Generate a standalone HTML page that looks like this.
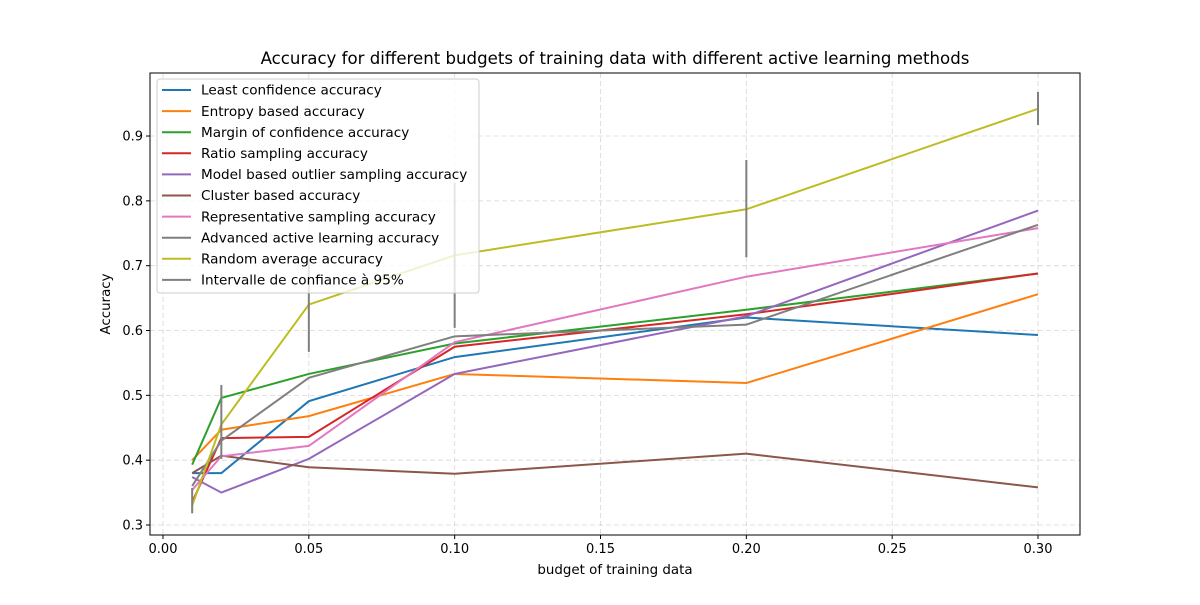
<!DOCTYPE html>
<html><head><meta charset="utf-8"><style>
body{margin:0;background:#fff;}
svg text{font-family:"DejaVu Sans","Liberation Sans",sans-serif;fill:#000;}
</style></head><body>
<svg id="c" width="1200" height="600"></svg>
<script>
const xVals=[0.01,0.02,0.05,0.1,0.2,0.3];
const seriesNames=["Least confidence accuracy","Entropy based accuracy","Margin of confidence accuracy","Ratio sampling accuracy","Model based outlier sampling accuracy","Cluster based accuracy","Representative sampling accuracy","Advanced active learning accuracy","Random average accuracy"];
const leastConf=[0.38,0.38,0.491,0.559,0.62,0.593];
const entropy=[0.40,0.447,0.468,0.533,0.519,0.656];
const margin=[0.393,0.496,0.533,0.58,0.632,0.688];
const ratio=[0.335,0.434,0.436,0.575,0.625,0.688];
const outlier=[0.374,0.35,0.402,0.533,0.622,0.785];
const cluster=[0.38,0.407,0.389,0.379,0.41,0.358];
const representative=[0.354,0.406,0.422,0.582,0.683,0.758];
const advanced=[0.36,0.43,0.527,0.591,0.609,0.763];
const randomAvg=[0.33,0.455,0.64,0.716,0.787,0.942];
const ciLow=[0.318,0.402,0.567,0.604,0.713,0.917];
const ciHigh=[0.357,0.516,0.71,0.828,0.863,0.968];
const xTicks=[0,0.05,0.1,0.15,0.2,0.25,0.3];
const xTickLabels=["0.00","0.05","0.10","0.15","0.20","0.25","0.30"];
const yTicks=[0.3,0.4,0.5,0.6,0.7,0.8,0.9];
const yTickLabels=["0.3","0.4","0.5","0.6","0.7","0.8","0.9"];
const allSeries=[leastConf,entropy,margin,ratio,outlier,cluster,representative,advanced,randomAvg];
const colors=["#1f77b4","#ff7f0e","#2ca02c","#d62728","#9467bd","#8c564b","#e377c2","#7f7f7f","#bcbd22"];
const L=150,R=1080,T=73,B=535;
const xs=v=>163+(v)*875/0.3;
const ys=v=>525-(v-0.3)*648.3;
const svg=document.getElementById('c');
const NS="http://www.w3.org/2000/svg";
function mk(t,a,p){const e=document.createElementNS(NS,t);for(const k in a)e.setAttribute(k,a[k]);(p||svg).appendChild(e);return e;}
xTicks.forEach((t,i)=>{
 const g=mk('line',{x1:xs(t),x2:xs(t),y1:T,y2:B,stroke:'#b0b0b0','stroke-opacity':0.5,'stroke-dasharray':'5,3','stroke-width':0.8});
 
 
 const tk=mk('line',{x1:xs(t),x2:xs(t),y1:B,y2:B+4,stroke:'#000'});
 
 
 const tx=mk('text',{x:xs(t),y:B+18,'text-anchor':'middle','font-size':13});tx.textContent=xTickLabels[i];
 
 
});
yTicks.forEach((t,i)=>{
 const g=mk('line',{x1:L,x2:R,y1:ys(t),y2:ys(t),stroke:'#b0b0b0','stroke-opacity':0.5,'stroke-dasharray':'5,3','stroke-width':0.8});
 
 
 const tk=mk('line',{x1:L-4,x2:L,y1:ys(t),y2:ys(t),stroke:'#000'});
 
 
 const tx=mk('text',{x:L-7,y:ys(t)+4.5,'text-anchor':'end','font-size':13});tx.textContent=yTickLabels[i];
 
 
});
allSeries.forEach((s,i)=>{
 const p=mk('polyline',{points:s.map((v,j)=>xs(xVals[j])+','+ys(v)).join(' '),fill:'none',stroke:colors[i],'stroke-width':2});
 
 
});
xVals.forEach((x,j)=>{
 const e=mk('line',{x1:xs(x),x2:xs(x),y1:ys(ciLow[j]),y2:ys(ciHigh[j]),stroke:'#7f7f7f','stroke-width':2});
 
 
});
const fr=mk('rect',{x:L,y:T,width:R-L,height:B-T,fill:'none',stroke:'#000','stroke-width':1});


const lg=mk('g',{});


mk('rect',{x:157,y:79,width:322,height:214,rx:3,fill:'#fff','fill-opacity':0.8,stroke:'#ccc'},lg);
const legendColors=colors.concat(['#7f7f7f']);
const legendLabels=seriesNames.concat(['Intervalle de confiance à 95%']);
legendLabels.forEach((n,i)=>{
 const y=90+i*21.1;
 const ln=mk('line',{x1:162,x2:191,y1:y,y2:y,stroke:legendColors[i],'stroke-width':2},lg);
 
 
 const t=mk('text',{x:201,y:y+4.7,'font-size':13.6},lg);t.textContent=n;
 
 
});
const tt=mk('text',{x:615,y:64,'text-anchor':'middle','font-size':16.6});tt.textContent="Accuracy for different budgets of training data with different active learning methods";


const xl=mk('text',{x:615,y:574,'text-anchor':'middle','font-size':13.4});xl.textContent="budget of training data";


const yl=mk('text',{x:110,y:304,'text-anchor':'middle','font-size':13.4,transform:'rotate(-90 110 304)'});yl.textContent="Accuracy";


</script>
</body></html>
